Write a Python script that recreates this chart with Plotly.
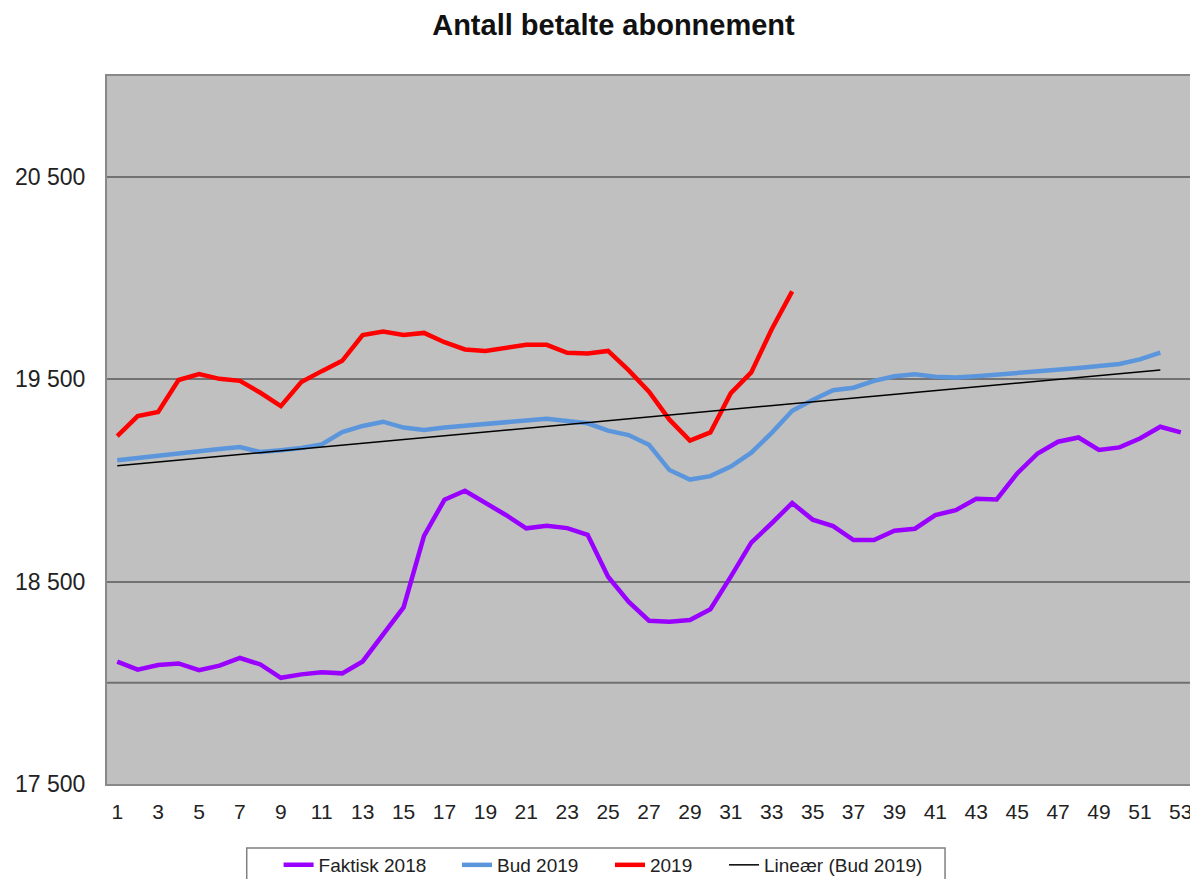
import numpy as np
import plotly.graph_objects as go

weeks = list(range(1, 54))

faktisk_2018 = [18105, 18065, 18088, 18096, 18063, 18085, 18123, 18091, 18025, 18042,
                18052, 18047, 18106, 18241, 18373, 18727, 18905, 18950, 18892, 18830,
                18764, 18777, 18765, 18732, 18525, 18401, 18307, 18302, 18311, 18364,
                18525, 18693, 18789, 18889, 18807, 18775, 18706, 18706, 18752, 18762,
                18829, 18854, 18910, 18907, 19035, 19134, 19192, 19213, 19151, 19164,
                19208, 19266, 19238]

bud_2019 = [19100, 19112, 19123, 19135, 19146, 19156, 19166, 19141, 19150, 19161,
            19179, 19240, 19270, 19291, 19262, 19250, 19262, 19270, 19278, 19286,
            19294, 19306, 19294, 19283, 19247, 19225, 19177, 19052, 19005, 19022,
            19069, 19138, 19236, 19345, 19398, 19447, 19459, 19493, 19516, 19526,
            19513, 19510, 19516, 19523, 19530, 19540, 19548, 19556, 19566, 19576,
            19599, 19633]

faktisk_2019 = [19220, 19319, 19339, 19497, 19526, 19503, 19493, 19434, 19368, 19487,
                19541, 19592, 19719, 19737, 19720, 19730, 19684, 19648, 19641, 19658,
                19671, 19671, 19632, 19628, 19641, 19546, 19439, 19301, 19198, 19238,
                19432, 19535, 19748, 19935]

y_tickvals = [17500, 18500, 19500, 20500]
y_ticktext = ["17 500", "18 500", "19 500", "20 500"]
x_tickvals = list(range(1, 54, 2))

# Linear trendline of Bud 2019 (least squares, like the spreadsheet trendline)
bud_weeks = weeks[:len(bud_2019)]
slope, intercept = np.polyfit(bud_weeks, bud_2019, 1)
trend = [slope * w + intercept for w in bud_weeks]

FONT = "Liberation Sans, Arial, sans-serif"

fig = go.Figure()
fig.add_trace(go.Scatter(x=weeks, y=faktisk_2018, mode="lines", name="Faktisk 2018",
                         line=dict(color="#9900FF", width=4.5), legend="legend"))
fig.add_trace(go.Scatter(x=bud_weeks, y=bud_2019, mode="lines", name="Bud 2019",
                         line=dict(color="#5B96DC", width=4.5), legend="legend2"))
fig.add_trace(go.Scatter(x=weeks[:len(faktisk_2019)], y=faktisk_2019, mode="lines", name="2019",
                         line=dict(color="#FF0000", width=4.5), legend="legend3"))
fig.add_trace(go.Scatter(x=bud_weeks, y=trend, mode="lines", name="Lineær (Bud 2019)",
                         line=dict(color="#000000", width=1.5), legend="legend4"))

# extra horizontal rule at 18 000
fig.add_shape(type="line", xref="paper", yref="y", x0=0, x1=1, y0=18000, y1=18000,
              line=dict(color="#707070", width=2), layer="below")
# legend frame
fig.add_shape(type="rect", xref="paper", yref="paper", x0=0.1289, x1=0.7731,
              y0=-0.0904, y1=-0.16, line=dict(color="#808080", width=1.5),
              fillcolor="rgba(0,0,0,0)")

leg_common = dict(orientation="h", xanchor="left", yanchor="top",
                  yref="container", y=0.0379,
                  borderwidth=0, bgcolor="rgba(0,0,0,0)",
                  font=dict(size=19, color="#222222", family=FONT))

fig.update_layout(
    width=1190, height=871,
    margin=dict(l=99, r=7, t=68, b=95, autoexpand=False),
    paper_bgcolor="white",
    plot_bgcolor="#C0C0C0",
    font=dict(family=FONT, color="#222222"),
    title=dict(text="<b>Antall betalte abonnement</b>", x=0.5088, xref="container",
               y=0.9805, yref="container", xanchor="center", yanchor="middle",
               font=dict(size=29, color="#111111", family=FONT)),
    showlegend=True,
    legend=dict(x=0.1583, **leg_common),
    legend2=dict(x=0.3229, **leg_common),
    legend3=dict(x=0.4640, **leg_common),
    legend4=dict(x=0.5692, **leg_common),
    xaxis=dict(range=[0.5, 53.5], tickvals=x_tickvals, showgrid=False, zeroline=False,
               showline=True, linecolor="#888888", linewidth=2, mirror=True,
               automargin=False,
               tickfont=dict(size=21, color="#222222"), ticks="", ticklabelstandoff=8),
    yaxis=dict(range=[17500, 21000], tickvals=y_tickvals, ticktext=y_ticktext,
               showgrid=True, gridcolor="#727272", gridwidth=2, zeroline=False,
               showline=True, linecolor="#888888", linewidth=2, mirror=True,
               automargin=False,
               tickfont=dict(size=23, color="#222222"), ticks="", ticklabelstandoff=15),
)

fig.write_html("out.html")
